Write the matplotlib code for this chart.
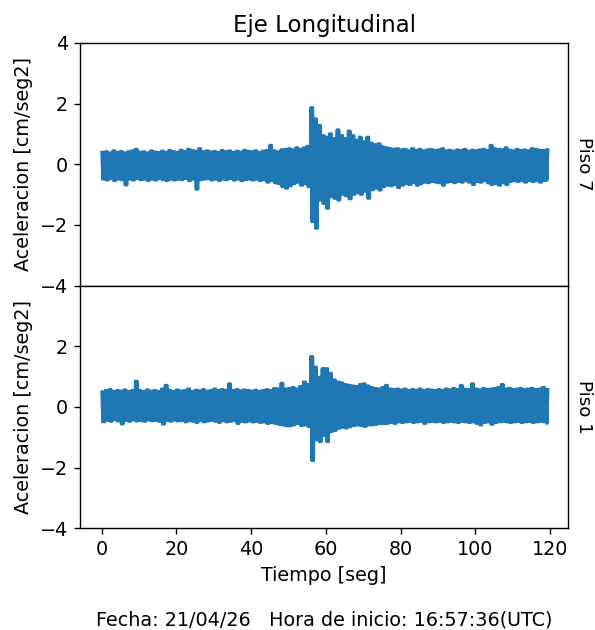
"""Two-floor acceleration record (Piso 7 / Piso 1), longitudinal axis."""
import numpy as np
import matplotlib
matplotlib.use('Agg')
import matplotlib.pyplot as plt

# time bins (s) and envelope of the record read per bin (cm/seg2)
t = list(range(120))

piso7_hi = [0.40, 0.42, 0.38, 0.45, 0.40, 0.43, 0.38, 0.42, 0.45, 0.50,
            0.40, 0.42, 0.38, 0.45, 0.41, 0.39, 0.44, 0.40, 0.46, 0.42,
            0.40, 0.47, 0.43, 0.50, 0.46, 0.44, 0.52, 0.42, 0.45, 0.41,
            0.43, 0.40, 0.46, 0.42, 0.45, 0.40, 0.44, 0.41, 0.47, 0.43,
            0.42, 0.45, 0.40, 0.44, 0.46, 0.63, 0.45, 0.42, 0.48, 0.50,
            0.52, 0.48, 0.55, 0.50, 0.55, 0.60, 1.87, 1.50, 1.29, 0.95,
            0.90, 1.01, 0.85, 1.14, 0.95, 0.85, 1.10, 0.95, 0.80, 0.90,
            0.75, 0.90, 0.70, 0.65, 0.68, 0.58, 0.55, 0.52, 0.50, 0.52,
            0.48, 0.50, 0.45, 0.52, 0.47, 0.50, 0.45, 0.48, 0.50, 0.46,
            0.48, 0.52, 0.45, 0.47, 0.44, 0.48, 0.46, 0.50, 0.44, 0.47,
            0.45, 0.48, 0.50, 0.46, 0.63, 0.52, 0.50, 0.48, 0.55, 0.47,
            0.45, 0.50, 0.46, 0.48, 0.45, 0.52, 0.50, 0.47, 0.46, 0.48]
piso7_lo = [-0.50, -0.53, -0.48, -0.55, -0.50, -0.52, -0.69, -0.50, -0.53, -0.48,
            -0.52, -0.50, -0.55, -0.50, -0.53, -0.48, -0.52, -0.55, -0.50, -0.53,
            -0.50, -0.52, -0.48, -0.55, -0.50, -0.83, -0.52, -0.50, -0.48, -0.53,
            -0.50, -0.55, -0.50, -0.52, -0.48, -0.53, -0.50, -0.55, -0.52, -0.50,
            -0.53, -0.50, -0.55, -0.52, -0.60, -0.55, -0.62, -0.65, -0.75, -0.80,
            -0.72, -0.65, -0.60, -0.70, -0.65, -0.75, -1.90, -2.12, -1.19, -1.30,
            -1.46, -1.08, -1.13, -1.19, -1.00, -1.05, -1.15, -1.00, -0.95, -1.00,
            -0.90, -1.13, -0.85, -0.80, -0.86, -0.75, -0.70, -0.72, -0.68, -0.78,
            -0.70, -0.65, -0.68, -0.62, -0.70, -0.65, -0.60, -0.62, -0.58, -0.60,
            -0.62, -0.70, -0.60, -0.58, -0.62, -0.58, -0.60, -0.55, -0.60, -0.68,
            -0.58, -0.60, -0.55, -0.62, -0.68, -0.65, -0.70, -0.62, -0.68, -0.58,
            -0.55, -0.58, -0.55, -0.60, -0.55, -0.58, -0.55, -0.60, -0.55, -0.53]

piso1_hi = [0.50, 0.55, 0.58, 0.52, 0.55, 0.53, 0.57, 0.52, 0.55, 0.86,
            0.55, 0.52, 0.57, 0.53, 0.55, 0.52, 0.60, 0.72, 0.55, 0.52,
            0.57, 0.53, 0.55, 0.60, 0.52, 0.56, 0.54, 0.58, 0.53, 0.55,
            0.60, 0.55, 0.58, 0.56, 0.77, 0.55, 0.58, 0.54, 0.57, 0.55,
            0.53, 0.56, 0.52, 0.55, 0.58, 0.55, 0.62, 0.60, 0.79, 0.60,
            0.62, 0.65, 0.60, 0.68, 0.83, 0.75, 1.67, 1.32, 0.99, 1.27,
            1.27, 1.12, 0.90, 0.83, 0.80, 0.75, 0.72, 0.70, 0.68, 0.75,
            0.77, 0.70, 0.65, 0.62, 0.60, 0.65, 0.72, 0.60, 0.58, 0.60,
            0.57, 0.60, 0.55, 0.58, 0.56, 0.60, 0.55, 0.58, 0.57, 0.55,
            0.58, 0.55, 0.60, 0.57, 0.62, 0.58, 0.72, 0.60, 0.58, 0.77,
            0.60, 0.57, 0.62, 0.58, 0.60, 0.62, 0.65, 0.75, 0.60, 0.62,
            0.58, 0.60, 0.62, 0.58, 0.60, 0.62, 0.58, 0.60, 0.65, 0.58]
piso1_lo = [-0.50, -0.45, -0.48, -0.43, -0.47, -0.57, -0.45, -0.48, -0.44, -0.47,
            -0.45, -0.48, -0.44, -0.46, -0.45, -0.48, -0.57, -0.45, -0.48, -0.44,
            -0.47, -0.45, -0.50, -0.46, -0.48, -0.52, -0.46, -0.50, -0.47, -0.45,
            -0.48, -0.52, -0.46, -0.50, -0.48, -0.46, -0.55, -0.48, -0.50, -0.47,
            -0.50, -0.48, -0.52, -0.50, -0.55, -0.52, -0.55, -0.58, -0.60, -0.63,
            -0.63, -0.60, -0.55, -0.62, -0.60, -0.65, -1.77, -1.09, -1.15, -0.95,
            -1.15, -0.82, -0.78, -0.71, -0.68, -0.70, -0.66, -0.62, -0.60, -0.62,
            -0.65, -0.60, -0.60, -0.58, -0.55, -0.56, -0.55, -0.52, -0.55, -0.50,
            -0.52, -0.50, -0.48, -0.52, -0.50, -0.48, -0.55, -0.50, -0.48, -0.50,
            -0.48, -0.52, -0.50, -0.48, -0.50, -0.52, -0.48, -0.50, -0.52, -0.50,
            -0.55, -0.60, -0.52, -0.50, -0.58, -0.52, -0.50, -0.48, -0.50, -0.52,
            -0.50, -0.48, -0.52, -0.50, -0.48, -0.52, -0.50, -0.48, -0.50, -0.55]

pisos = ['Piso 7', 'Piso 1']
fecha = '21/04/26'
hora = '16:57:36'

plt.rcParams['font.size'] = 11


def trace(hi, lo):
    # dense zig-zag between the upper and lower envelope inside each bin
    tt = np.asarray(t, dtype=float)
    x = np.column_stack([tt, tt + 0.25, tt + 0.5, tt + 0.75]).ravel()
    y = np.column_stack([hi, lo, hi, lo]).ravel()
    return x[:-1], y[:-1]


fig, axes = plt.subplots(2, 1, sharex=True, figsize=(4.76, 5.04), dpi=125)
fig.subplots_adjust(left=0.1345, right=0.955, top=0.932, bottom=0.1614, hspace=0)

for ax, name, (hi, lo) in zip(axes, pisos, [(piso7_hi, piso7_lo), (piso1_hi, piso1_lo)]):
    x, y = trace(hi, lo)
    ax.plot(x, y, color='#1f77b4', lw=1.6)
    ax.set_ylim(-4, 4)
    ax.set_ylabel('Aceleracion [cm/seg2]')
    ax.text(1.033, 0.5, name, rotation=270, transform=ax.transAxes,
            ha='center', va='center', fontsize=10.5)

axes[0].set_title('Eje Longitudinal')
axes[0].set_yticks([-4, -2, 0, 2, 4])
axes[0].tick_params(axis='x', bottom=False)
axes[1].set_yticks([-4, -2, 0, 2])
axes[1].set_xlim(-5.8, 124.9)
axes[1].set_xticks([0, 20, 40, 60, 80, 100, 120])
axes[1].set_xlabel('Tiempo [seg]')

fig.text(324 / 595, 1 - 620 / 630, f'Fecha: {fecha}   Hora de inicio: {hora}(UTC)',
         ha='center', va='center')

fig.savefig('out.png', dpi=125)
